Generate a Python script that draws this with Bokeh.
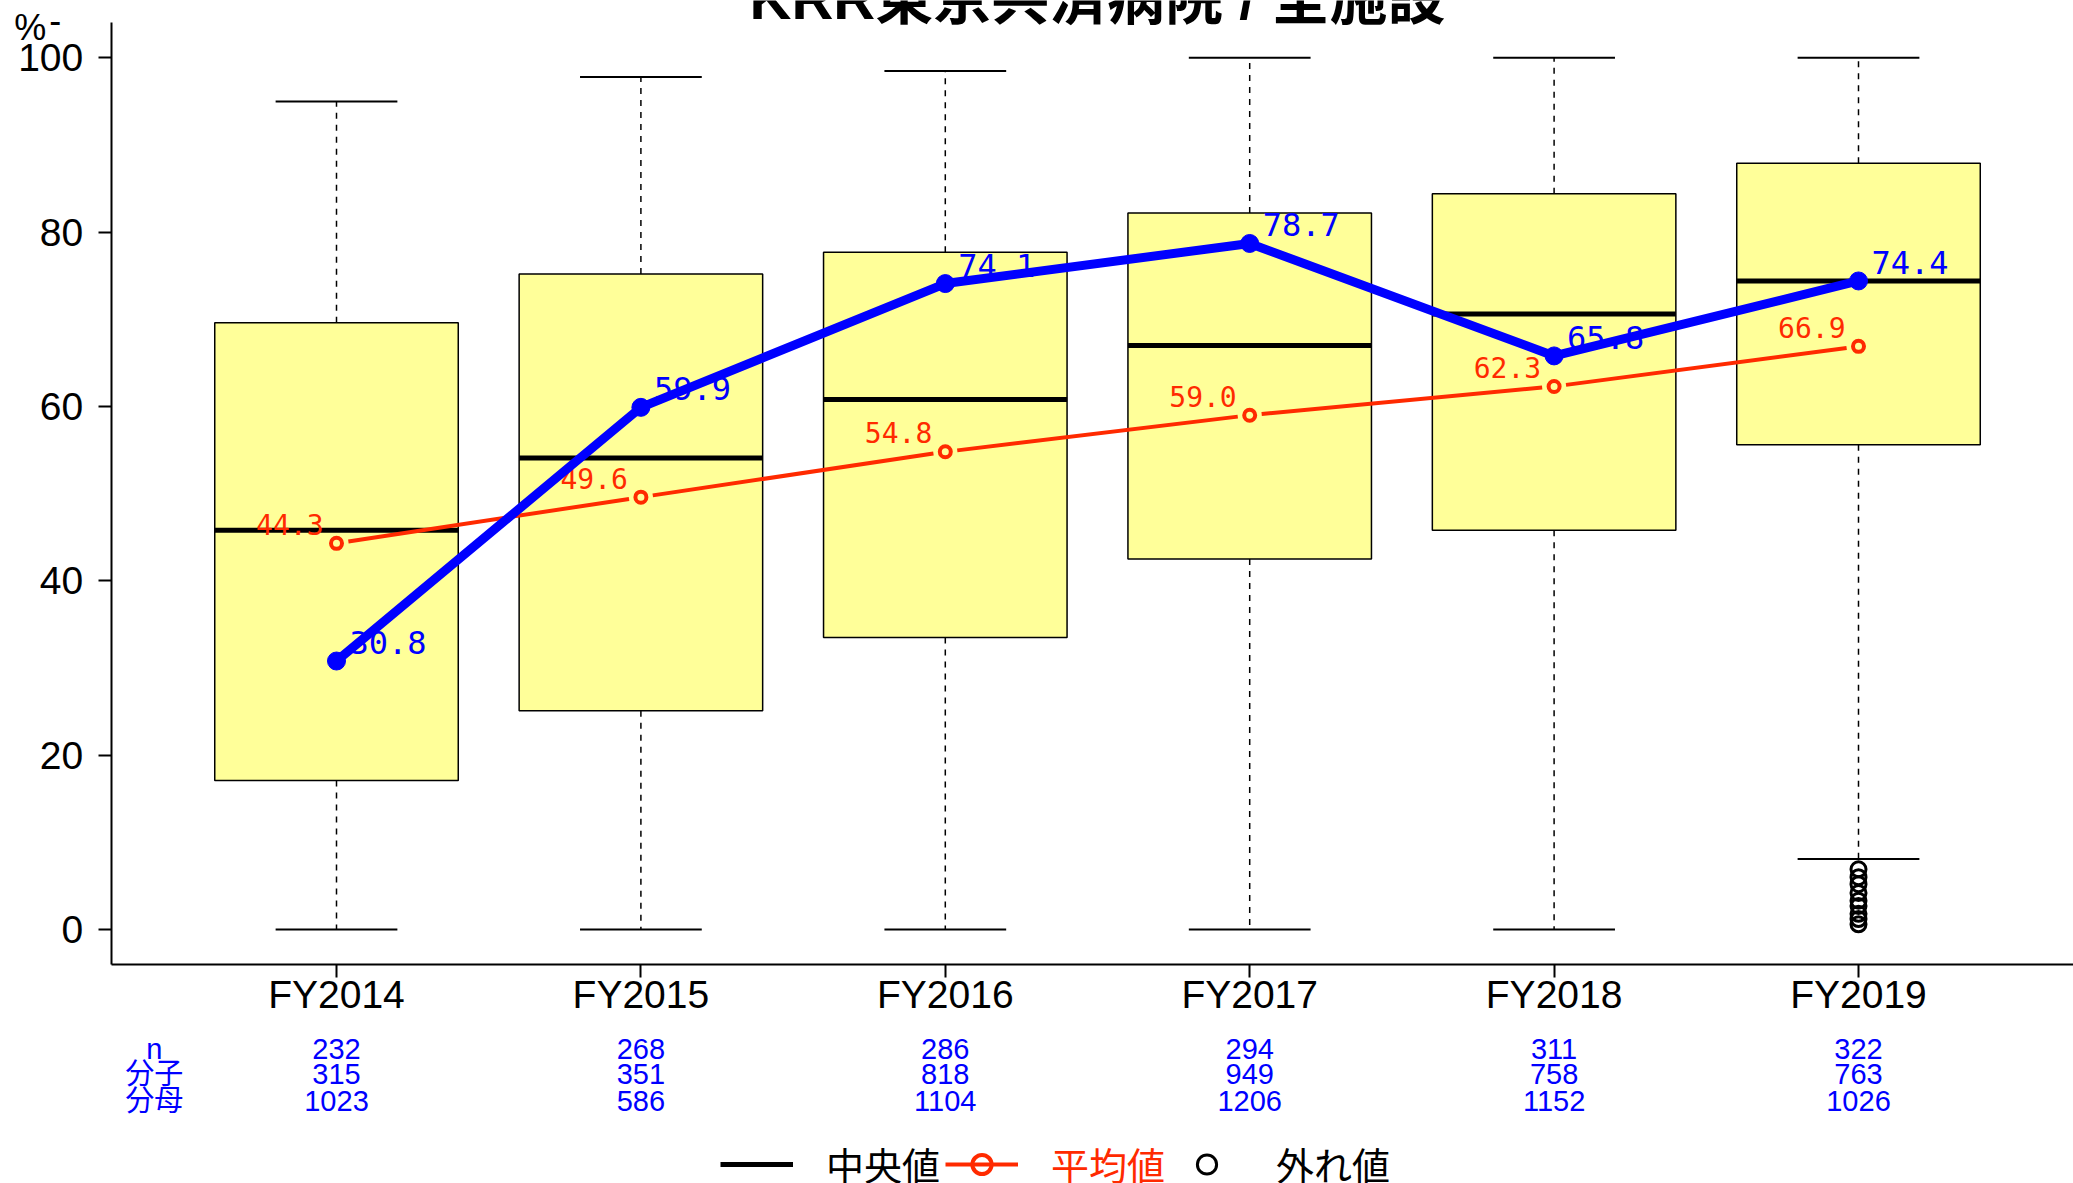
import math
from bokeh.plotting import figure
from bokeh.models import Range1d, FixedTicker, Legend, LegendItem
from bokeh.embed import file_html
from bokeh.resources import INLINE
from bokeh.core.properties import value

# ---------------- data ----------------
title_text = "KRR東京共済病院 / 全施設"
categories = ["FY2014", "FY2015", "FY2016", "FY2017", "FY2018", "FY2019"]
q1 = [17.1, 25.1, 33.5, 42.5, 45.8, 55.6]
median = [45.8, 54.1, 60.8, 67.0, 70.6, 74.4]
q3 = [69.6, 75.2, 77.7, 82.2, 84.4, 87.9]
whisker_low = [0.0, 0.0, 0.0, 0.0, 0.0, 8.1]
whisker_high = [95.0, 97.8, 98.5, 100.0, 100.0, 100.0]
outlier_category = "FY2019"
outlier_values = [6.9, 6.0, 5.2, 4.2, 3.3, 2.7, 1.8, 1.2, 0.6]
facility_rate = [30.8, 59.9, 74.1, 78.7, 65.8, 74.4]
mean_rate = [44.3, 49.6, 54.8, 59.0, 62.3, 66.9]
n_counts = [232, 268, 286, 294, 311, 322]
numerators = [315, 351, 818, 949, 758, 763]
denominators = [1023, 586, 1104, 1206, 1152, 1026]
row_names = ["n", "分子", "分母"]
y_ticks = [0, 20, 40, 60, 80, 100]
legend_labels = ["中央値", "平均値", "外れ値"]
y_label = "%"
y_label_mark = "-"

# ---------------- styles / layout ----------------
FONT = "'Liberation Sans', 'Noto Sans CJK JP', sans-serif"
CJK = "'Noto Sans CJK JP', 'Liberation Sans', sans-serif"
MONO = "'DejaVu Sans Mono', monospace"
BLUE = "#0000FF"
RED = "#FF2A00"
BOX_FILL = "#FFFF99"

W, H = 2073, 1183
# plotting region of the original (R-style padded limits)
X_LIM = (0.26, 6.74)
Y_LIM = (-4.0, 104.0)
# pixel mapping of the reference
X1_PX, PX_PER_X = 336.0, 304.4      # pixel of first category, px per category
Y0_PX, PX_PER_Y = 929.0, 8.717      # pixel of value 0, px per unit
LINE_GAP_PX = 12                    # gap left around points (R type="b")

x_start = 1 - X1_PX / PX_PER_X
x_end = 1 + (W - X1_PX) / PX_PER_X
y_end = Y0_PX / PX_PER_Y
y_start = (Y0_PX - H) / PX_PER_Y

xs = list(range(1, len(categories) + 1))

p = figure(width=W, height=H, output_backend="svg", toolbar_location=None,
           title=None, x_range=Range1d(x_start, x_end),
           y_range=Range1d(y_start, y_end),
           min_border_left=0, min_border_right=0, min_border_top=0,
           min_border_bottom=0)
p.outline_line_color = None
p.grid.visible = False
p.background_fill_color = "white"
p.border_fill_color = "white"

# axes (fixed inside the frame, like R's bty="l")
p.yaxis.fixed_location = X_LIM[0]
p.xaxis.fixed_location = Y_LIM[0]
p.yaxis.bounds = Y_LIM
p.xaxis.bounds = X_LIM
p.yaxis.ticker = FixedTicker(ticks=y_ticks, minor_ticks=[])
p.xaxis.ticker = FixedTicker(ticks=xs, minor_ticks=[])
p.xaxis.major_label_overrides = {x: c for x, c in zip(xs, categories)}
for ax in (p.xaxis, p.yaxis):
    ax.axis_line_width = 2
    ax.axis_line_color = "black"
    ax.major_tick_line_width = 2
    ax.major_tick_line_color = "black"
    ax.major_tick_out = 13
    ax.major_tick_in = 0
    ax.minor_tick_out = 0
    ax.minor_tick_in = 0
    ax.major_label_text_font = FONT
    ax.major_label_text_font_size = "39px"
    ax.major_label_text_color = "black"
p.yaxis.major_label_standoff = 15
p.xaxis.major_label_standoff = -4

# boxes
box_lo = [x - 0.4 for x in xs]
box_hi = [x + 0.4 for x in xs]
cap_lo = [x - 0.2 for x in xs]
cap_hi = [x + 0.2 for x in xs]
p.segment(x0=xs, x1=xs, y0=q3, y1=whisker_high, line_color="black",
          line_width=1.5, line_dash="6 6")
p.segment(x0=xs, x1=xs, y0=q1, y1=whisker_low, line_color="black",
          line_width=1.5, line_dash="6 6")
p.segment(x0=cap_lo, x1=cap_hi, y0=whisker_high, y1=whisker_high,
          line_color="black", line_width=2)
p.segment(x0=cap_lo, x1=cap_hi, y0=whisker_low, y1=whisker_low,
          line_color="black", line_width=2)
p.vbar(x=xs, width=0.8, bottom=q1, top=q3, fill_color=BOX_FILL,
       line_color="black", line_width=1.5)
r_med = p.segment(x0=box_lo, x1=box_hi, y0=median, y1=median,
                  line_color="black", line_width=5)
ox = [xs[categories.index(outlier_category)]] * len(outlier_values)
r_out = p.scatter(x=ox, y=outlier_values, marker="circle", size=15,
                  fill_color=None, line_color="black", line_width=3)

# value labels (drawn under the lines)
p.text(x=xs, y=mean_rate, text=[f"{v:.1f}" for v in mean_rate],
       text_color=RED, text_font=value(MONO), text_font_size="28px",
       text_align="right", text_baseline="middle", x_offset=-13, y_offset=-19)
p.text(x=xs, y=facility_rate, text=[f"{v:.1f}" for v in facility_rate],
       text_color=BLUE, text_font=value(MONO), text_font_size="32px",
       text_align="left", text_baseline="middle", x_offset=13, y_offset=-18.5)

# mean line: segments with a small gap around each point (R type="b")
sx0, sx1, sy0, sy1 = [], [], [], []
for i in range(len(xs) - 1):
    dx, dy = xs[i + 1] - xs[i], mean_rate[i + 1] - mean_rate[i]
    length = math.hypot(dx * PX_PER_X, dy * PX_PER_Y)
    f = LINE_GAP_PX / length
    sx0.append(xs[i] + f * dx)
    sy0.append(mean_rate[i] + f * dy)
    sx1.append(xs[i + 1] - f * dx)
    sy1.append(mean_rate[i + 1] - f * dy)
r_mean_line = p.segment(x0=sx0, y0=sy0, x1=sx1, y1=sy1, line_color=RED,
                        line_width=4)
r_mean_pts = p.scatter(x=xs, y=mean_rate, marker="circle", size=11,
                       fill_color=None, line_color=RED, line_width=4)
# facility line
p.line(x=xs, y=facility_rate, line_color=BLUE, line_width=9)
p.scatter(x=xs, y=facility_rate, marker="circle", size=18,
          fill_color=BLUE, line_color=BLUE)

# title (cut at the top edge, as in the original) and y label
x_mid = (X_LIM[0] + X_LIM[1]) / 2
p.text(x=[x_mid], y=[Y_LIM[1]], text=[title_text], text_color="black",
       text_font=value(FONT), text_font_size="58px", text_font_style="bold",
       text_align="center", text_baseline="middle", y_offset=-24)
p.text(x=[X_LIM[0]], y=[Y_LIM[1]], text=[y_label], text_color="black",
       text_font=value(FONT), text_font_size="36px",
       text_align="left", text_baseline="middle", x_offset=-97, y_offset=5)
p.text(x=[X_LIM[0]], y=[Y_LIM[1]], text=[y_label_mark], text_color="black",
       text_font=value(FONT), text_font_size="36px",
       text_align="left", text_baseline="middle", x_offset=-62, y_offset=-3)

# count table under the x axis
row_offsets = [85, 110, 137]
rows = [n_counts, numerators, denominators]
for name, vals, off in zip(row_names, rows, row_offsets):
    p.text(x=[X_LIM[0]], y=[Y_LIM[0]], text=[name], text_color=BLUE,
           text_font=value(FONT), text_font_size="29px", text_align="center",
           text_baseline="middle", x_offset=43, y_offset=off)
    p.text(x=xs, y=[Y_LIM[0]] * len(xs), text=[str(v) for v in vals],
           text_color=BLUE, text_font=value(FONT), text_font_size="29px",
           text_align="center", text_baseline="middle", y_offset=off)

# legend (three single-item legends so each label keeps its colour)
leg_specs = [
    (legend_labels[0], [r_med], "black", 720),
    (legend_labels[1], [r_mean_line, r_mean_pts], RED, 945),
    (legend_labels[2], [r_out], "black", 1170),
]
for lab, rends, col, lx in leg_specs:
    leg = Legend(items=[LegendItem(label=lab, renderers=rends)],
                 location=(lx, -8), orientation="horizontal",
                 glyph_width=73, glyph_height=48, label_height=48,
                 label_standoff=33, padding=0, margin=0, spacing=0,
                 border_line_color=None, background_fill_alpha=0,
                 label_text_font=CJK, label_text_font_size="38px",
                 label_text_color=col)
    p.add_layout(leg)

open("out.html", "w").write(file_html(p, INLINE))
